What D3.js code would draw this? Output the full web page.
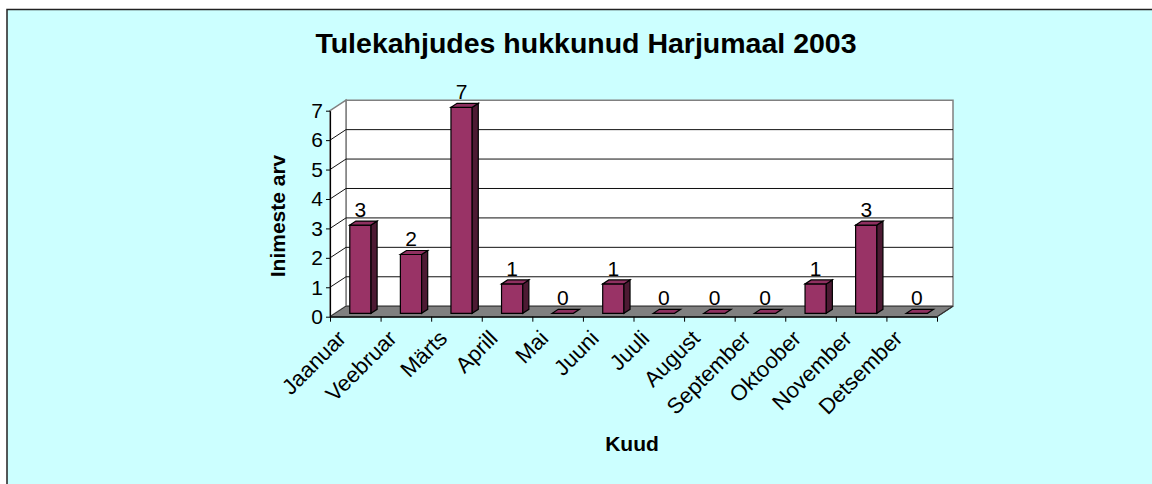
<!DOCTYPE html>
<html>
<head>
<meta charset="utf-8">
<script src="https://cdn.jsdelivr.net/npm/d3@7"></script>
<style>
  body { margin: 0; background: #ffffff; }
  text { font-family: "Liberation Sans", Arial, sans-serif; }
</style>
</head>
<body>
<div id="vis"></div>
<script>
var width = 1152;
var height = 484;

var title = "Tulekahjudes hukkunud Harjumaal 2003";
var xTitle = "Kuud";
var yTitle = "Inimeste arv";

var months = ["Jaanuar", "Veebruar", "Märts", "Aprill", "Mai", "Juuni",
              "Juuli", "August", "September", "Oktoober", "November", "Detsember"];
var deaths = [3, 2, 7, 1, 0, 1, 0, 0, 0, 1, 3, 0];
var yTicks = [0, 1, 2, 3, 4, 5, 6, 7];

// front plane of the 3d box, and the depth offset to the back wall
var plotL = 330, plotR = 937, plotB = 316.7, plotT = 110.7;
var DX = 16, DY = -10.5;
// bars sit between these fractions of the depth
var f1 = 0.32, f2 = 0.7;

var svg = d3.select("#vis")
  .append("svg")
  .attr("width", width)
  .attr("height", height);

// background + frame
svg.append("rect")
  .attr("x", 7).attr("y", 9.5)
  .attr("width", width).attr("height", height)
  .attr("fill", "#ccffff")
  .attr("stroke", "#222")
  .attr("stroke-width", 1.5);

var xScale = d3.scaleBand()
  .domain(months)
  .range([plotL, plotR]);

var xEdges = d3.scaleLinear()
  .domain([0, months.length])
  .range([plotL, plotR]);

var yScale = d3.scaleLinear()
  .domain([0, 7])
  .range([plotB, plotT]);

function pts(a) { return a.map(p => p.join(",")).join(" "); }

// back wall
svg.append("polygon")
  .attr("points", pts([[plotL + DX, yScale(0) + DY], [plotR + DX, yScale(0) + DY],
                       [plotR + DX, yScale(7) + DY], [plotL + DX, yScale(7) + DY]]))
  .attr("fill", "white")
  .attr("stroke", "#808080")
  .attr("stroke-width", 1.5);

// side wall
svg.append("polygon")
  .attr("points", pts([[plotL, yScale(0)], [plotL + DX, yScale(0) + DY],
                       [plotL + DX, yScale(7) + DY], [plotL, yScale(7)]]))
  .attr("fill", "white")
  .attr("stroke", "#808080")
  .attr("stroke-width", 1.5);

// gridlines
var grid = svg.append("g").attr("class", "grid");
grid.selectAll(".back")
  .data(yTicks.slice(1, 7))
  .join("line")
  .attr("x1", plotL + DX).attr("x2", plotR + DX)
  .attr("y1", d => yScale(d) + DY).attr("y2", d => yScale(d) + DY)
  .attr("stroke", "#111").attr("stroke-width", 1);
grid.selectAll(".side")
  .data(yTicks.slice(1, 7))
  .join("line")
  .attr("x1", plotL).attr("x2", plotL + DX)
  .attr("y1", d => yScale(d)).attr("y2", d => yScale(d) + DY)
  .attr("stroke", "#111").attr("stroke-width", 1);

// floor
svg.append("polygon")
  .attr("points", pts([[plotL, yScale(0)], [plotR, yScale(0)],
                       [plotR + DX, yScale(0) + DY], [plotL + DX, yScale(0) + DY]]))
  .attr("fill", "#808080")
  .attr("stroke", "#333")
  .attr("stroke-width", 1);

// bars
var barW = xScale.bandwidth() * 0.42;
var bars = svg.selectAll(".bar")
  .data(months.map((m, i) => ({ month: m, value: deaths[i] })))
  .join("g")
  .attr("class", "bar");

function barGeom(d) {
  var cx = xScale(d.month) + xScale.bandwidth() / 2 + f1 * DX;
  var x0 = cx - barW / 2, x1 = cx + barW / 2;
  var yb = yScale(0) + f1 * DY, yt = yScale(d.value) + f1 * DY;
  var ddx = (f2 - f1) * DX, ddy = (f2 - f1) * DY;
  return { cx, x0, x1, yb, yt, ddx, ddy };
}

bars.each(function(d) {
  var g = d3.select(this);
  var b = barGeom(d);
  if (d.value > 0) {
    g.append("polygon")
      .attr("points", pts([[b.x0, b.yb], [b.x1, b.yb], [b.x1, b.yt], [b.x0, b.yt]]))
      .attr("fill", "#993366").attr("stroke", "black").attr("stroke-width", 1.2);
    g.append("polygon")
      .attr("points", pts([[b.x1, b.yb], [b.x1 + b.ddx, b.yb + b.ddy],
                           [b.x1 + b.ddx, b.yt + b.ddy], [b.x1, b.yt]]))
      .attr("fill", "#4d1a33").attr("stroke", "black").attr("stroke-width", 1.2);
  }
  g.append("polygon")
    .attr("points", pts([[b.x0, b.yt], [b.x1, b.yt],
                         [b.x1 + b.ddx, b.yt + b.ddy], [b.x0 + b.ddx, b.yt + b.ddy]]))
    .attr("fill", "#8f3060").attr("stroke", "black").attr("stroke-width", 1.2);
});

// value labels
bars.append("text")
  .attr("x", d => barGeom(d).cx)
  .attr("y", d => barGeom(d).yt - 8)
  .attr("text-anchor", "middle")
  .style("font-size", "21px")
  .text(d => d.value);

// y axis
var yAxis = d3.axisLeft(yScale)
  .tickValues(yTicks)
  .tickSize(4)
  .tickSizeOuter(0)
  .tickPadding(3)
  .tickFormat(d3.format("d"));

var yG = svg.append("g")
  .attr("transform", `translate(${plotL}, 0)`)
  .call(yAxis);
yG.select(".domain").attr("stroke", "black").attr("stroke-width", 1.2);
yG.selectAll("line").attr("stroke", "black");
yG.selectAll("text")
  .style("font-size", "21px")
  .attr("fill", "black")
  .attr("font-family", "Liberation Sans, Arial, sans-serif");

// x axis (ticks at the category edges)
var xAxis = d3.axisBottom(xEdges)
  .tickValues(d3.range(0, months.length + 1))
  .tickSize(5)
  .tickSizeOuter(0)
  .tickFormat("");

var xG = svg.append("g")
  .attr("transform", `translate(0, ${plotB})`)
  .call(xAxis);
xG.select(".domain").attr("stroke", "black").attr("stroke-width", 1.2);
xG.selectAll("line").attr("stroke", "black");

// floor right edge
svg.append("line")
  .attr("x1", plotR).attr("y1", yScale(0))
  .attr("x2", plotR + DX).attr("y2", yScale(0) + DY)
  .attr("stroke", "#333").attr("stroke-width", 1.2);

// month labels
svg.append("g")
  .selectAll("text")
  .data(months)
  .join("text")
  .attr("transform", d => `translate(${xScale(d) + xScale.bandwidth() / 2 - 8}, ${plotB + 23}) rotate(-45)`)
  .attr("text-anchor", "end")
  .style("font-size", "22px")
  .text(d => d);

// titles
svg.append("text")
  .attr("x", 586).attr("y", 52.5)
  .attr("text-anchor", "middle")
  .style("font-size", "28.5px").style("font-weight", "bold")
  .text(title);

svg.append("text")
  .attr("x", 632).attr("y", 451)
  .attr("text-anchor", "middle")
  .style("font-size", "21px").style("font-weight", "bold")
  .text(xTitle);

svg.append("text")
  .attr("transform", "translate(285, 216) rotate(-90)")
  .attr("text-anchor", "middle")
  .style("font-size", "21px").style("font-weight", "bold")
  .text(yTitle);
</script>
</body>
</html>
